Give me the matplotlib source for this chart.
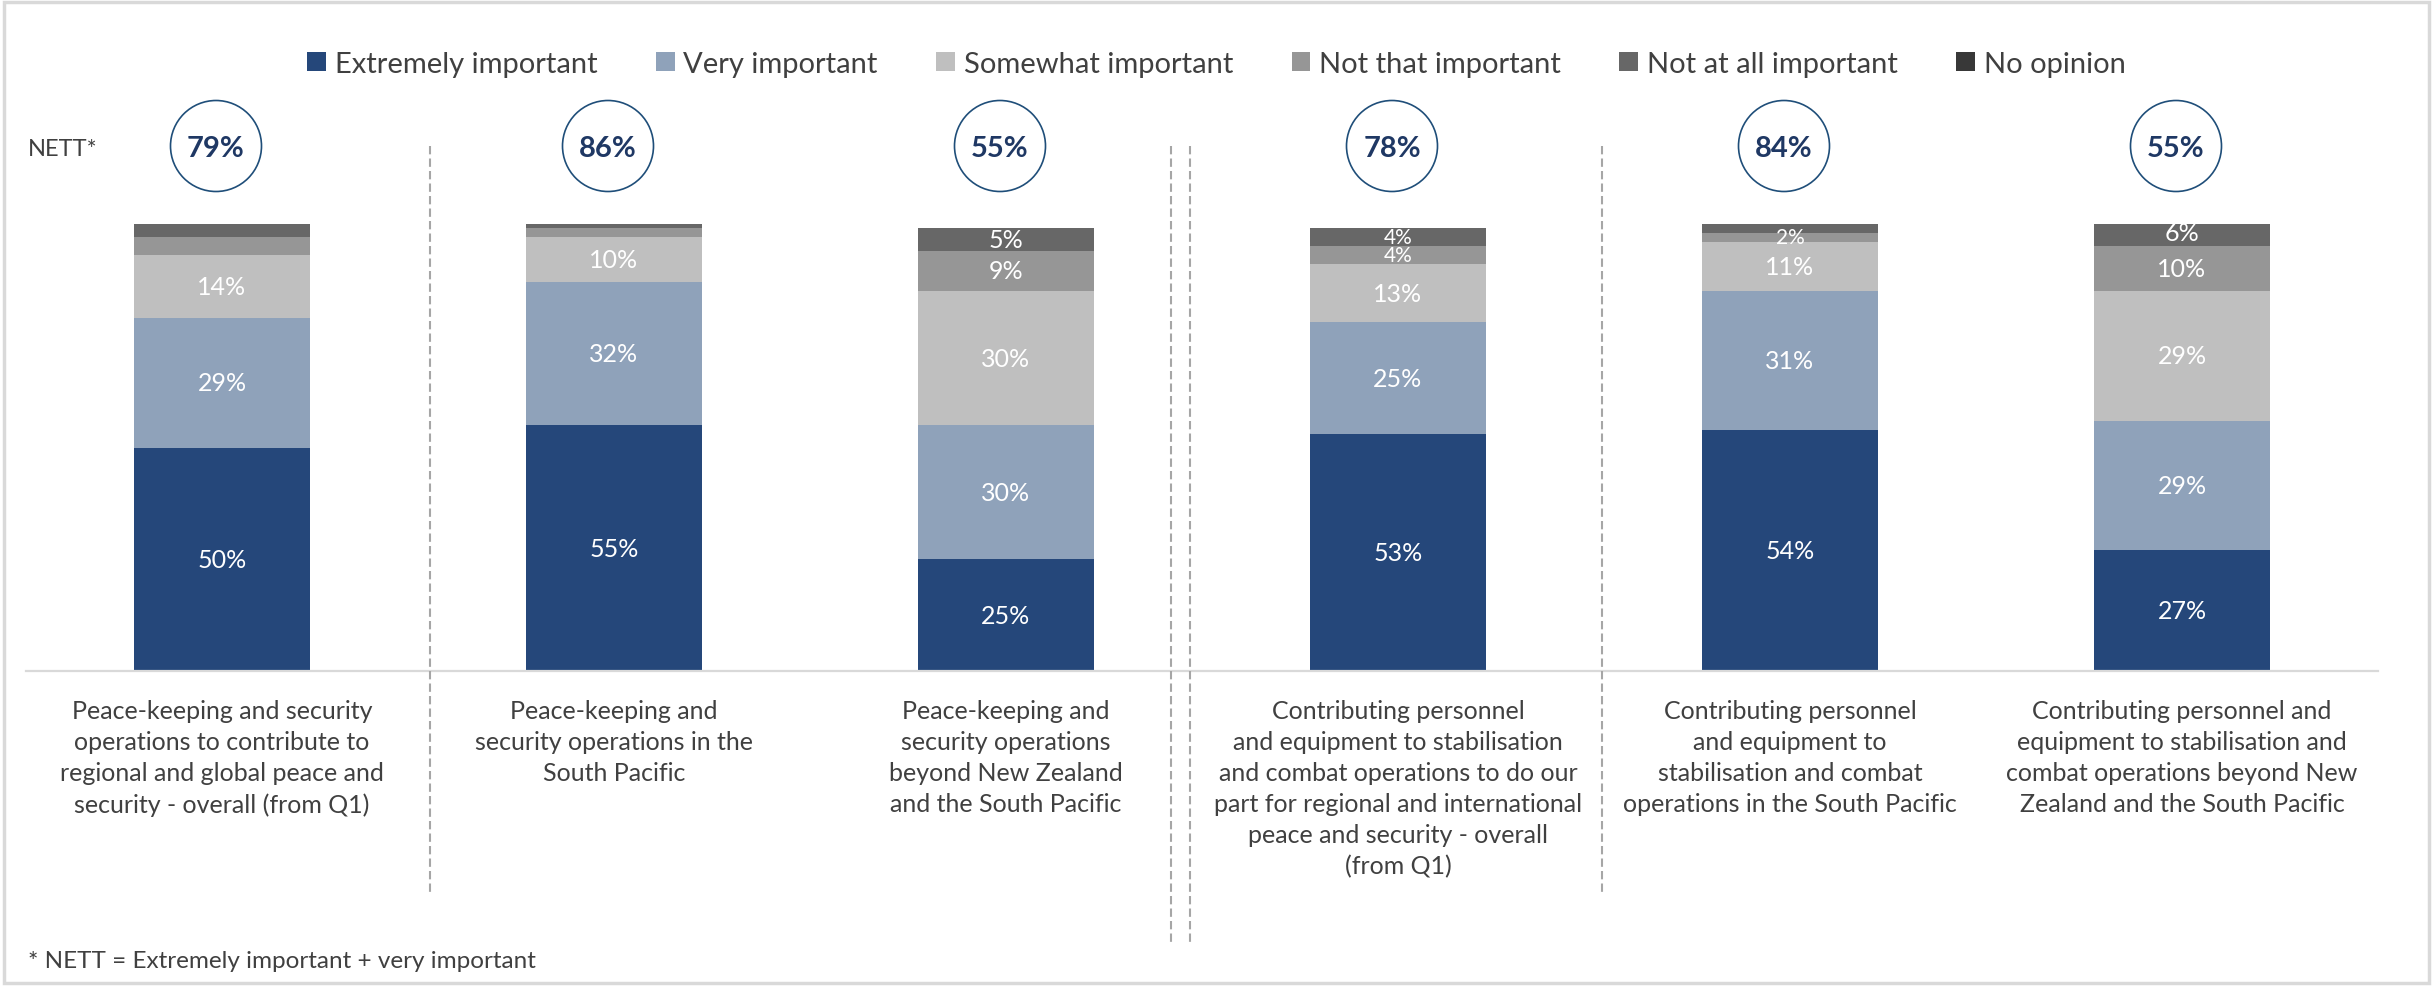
import matplotlib.pyplot as plt
from matplotlib.patches import Circle, Rectangle
from matplotlib.lines import Line2D

plt.rcParams['font.family'] = ['Lato', 'DejaVu Sans']

# categories and data
categories = [
    "Peace-keeping and security\noperations to contribute to\nregional and global peace and\nsecurity - overall (from Q1)",
    "Peace-keeping and\nsecurity operations in the\nSouth Pacific",
    "Peace-keeping and\nsecurity operations\nbeyond New Zealand\nand the South Pacific",
    "Contributing personnel\nand equipment to stabilisation\nand combat operations to do our\npart for regional and international\npeace and security - overall\n(from Q1)",
    "Contributing personnel\nand equipment to\nstabilisation and combat\noperations in the South Pacific",
    "Contributing personnel and\nequipment to stabilisation and\ncombat operations beyond New\nZealand and the South Pacific",
]
series_names = ["Extremely important", "Very important", "Somewhat important",
                "Not that important", "Not at all important", "No opinion"]
extremely = [50, 55, 25, 53, 54, 27]
very = [29, 32, 30, 25, 31, 29]
somewhat = [14, 10, 30, 13, 11, 29]
not_that = [4, 2, 9, 4, 2, 10]
not_at_all = [3, 1, 5, 4, 2, 6]
no_opinion = [0, 0, 0, 0, 0, 0]
nett = [79, 86, 55, 78, 84, 55]

# segment labels that are not printed in the chart (bar index, series index)
hidden_labels = {(0, 3), (0, 4), (1, 3), (1, 4), (4, 4)}

colors = ['#25477A', '#8FA2BA', '#BFBFBF', '#969696', '#676767', '#383838']
series = [extremely, very, somewhat, not_that, not_at_all, no_opinion]

W, H = 2433, 987
fig = plt.figure(figsize=(W / 100, H / 100), dpi=100)

ax = fig.add_axes([26 / W, 1 - 672 / H, 2352 / W, 447 / H])
x = list(range(len(categories)))
bottom = [0] * len(categories)
for s, (vals, col) in enumerate(zip(series, colors)):
    ax.bar(x, vals, bottom=bottom, width=0.45, color=col, label=series_names[s], zorder=2)
    for i, v in enumerate(vals):
        if v > 0 and (i, s) not in hidden_labels:
            ax.text(i, bottom[i] + v / 2, f"{v}%", ha='center', va='center',
                    color='white', fontsize=18 if v >= 5 else 15, zorder=3)
    bottom = [b + v for b, v in zip(bottom, vals)]

ax.set_xlim(-0.5, 5.5)
ax.set_ylim(0, 100)
ax.set_yticks([])
ax.set_xticks(x)
ax.set_xticklabels(categories, fontsize=18, color='#404040', linespacing=1.42, va='top')
ax.tick_params(axis='x', length=0, pad=20)
for sp in ['top', 'left', 'right']:
    ax.spines[sp].set_visible(False)
ax.spines['bottom'].set_color('#D9D9D9')
ax.spines['bottom'].set_linewidth(1.6)

# overlay in pixel units
ov = fig.add_axes([0, 0, 1, 1], zorder=-1)
ov.set_xlim(0, W)
ov.set_ylim(H, 0)
ov.axis('off')
ov.add_patch(Rectangle((4, 3), W - 8, H - 6, fill=False, edgecolor='#D9D9D9', lw=2.5))

ov2 = fig.add_axes([0, 0, 1, 1], zorder=5)
ov2.set_xlim(0, W)
ov2.set_ylim(H, 0)
ov2.axis('off')
ov2.patch.set_alpha(0)


def px(xd):
    return ax.transData.transform((xd, 0))[0]


# dashed separators
separators = [(0.53, 897), (2.42, 943), (2.47, 943), (3.52, 897)]
for xs, yb in separators:
    ov2.add_line(Line2D([px(xs), px(xs)], [147, yb], color='#A6A6A6', lw=1.5,
                        linestyle=(0, (4, 2))))

# NETT circles
for i, n in enumerate(nett):
    cx = px(i) - 6
    ov2.add_patch(Circle((cx, 147), 45.5, fill=False, edgecolor='#1F4E79', lw=1.2))
    ov2.text(cx, 149, f"{n}%", ha='center', va='center', fontsize=21,
             fontweight='bold', color='#1F3864')

ov2.text(28, 150, "NETT*", ha='left', va='center', fontsize=17, color='#404040')
ov2.text(28, 962, "* NETT = Extremely important + very important", ha='left',
         va='center', fontsize=17.5, color='#404040')

fig.legend(loc='center', bbox_to_anchor=(0.5, 1 - 65 / H), ncol=6, frameon=False,
           fontsize=21, handlelength=0.65, handleheight=0.65, handletextpad=0.3,
           columnspacing=2.0, labelcolor='#404040')

fig.savefig('out.png', dpi=100)
